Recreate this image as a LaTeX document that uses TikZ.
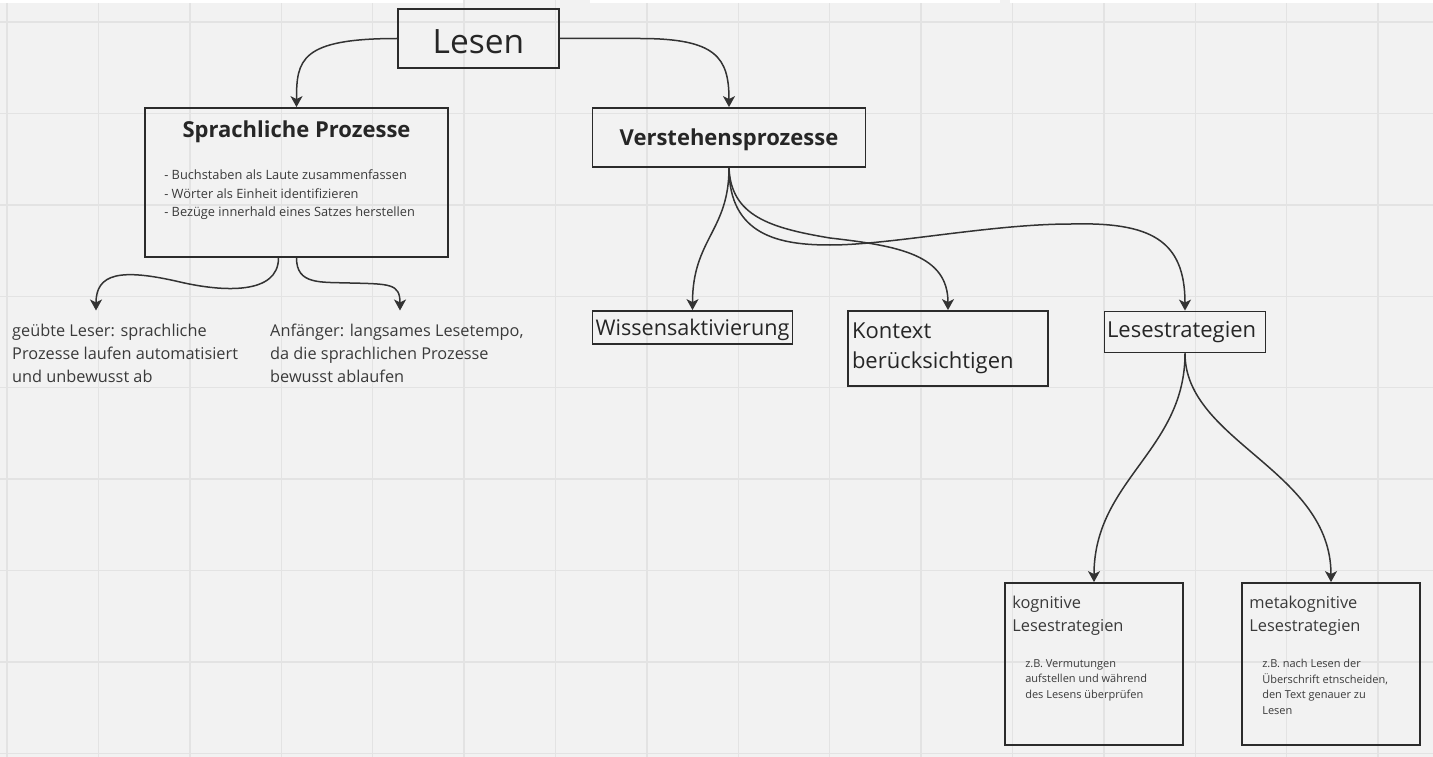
\documentclass[tikz,border=0pt]{standalone}
\usepackage{fontspec}
\setmainfont{Open Sans}
\usetikzlibrary{arrows.meta}

\definecolor{paper}{HTML}{F2F2F2}
\definecolor{gridline}{HTML}{E3E3E3}
\definecolor{frame}{HTML}{2B2B2B}
\definecolor{wire}{HTML}{333333}
\definecolor{ink}{HTML}{262626}
\definecolor{softink}{HTML}{3A3A3A}

\begin{document}
\begin{tikzpicture}[x=1pt, y=-1pt,
    box/.style={draw=frame, line width=1.8pt, inner sep=0pt, text=ink},
    link/.style={draw=wire, line width=1.5pt, -{Stealth[length=11pt,width=12pt,inset=3pt]}},
    plain/.style={inner sep=0pt, align=left, anchor=north west, text=softink,
        font=\fontsize{16.3}{23}\selectfont},
    headline/.style={inner sep=0pt, text=ink, font=\fontsize{22}{26}\selectfont\bfseries},
    subhead/.style={inner sep=0pt, align=left, anchor=north west, text=softink,
        font=\fontsize{16.4}{23}\selectfont},
    detail/.style={inner sep=0pt, align=left, anchor=north west, text=softink,
        font=\fontsize{11}{15.6}\selectfont}]
\useasboundingbox (0,0) rectangle (1433,757);
\fill[paper] (0,0) rectangle (1433,757);
\foreach \i in {0,...,15}
    \draw[gridline, line width=1.4pt] ({7+91.4*\i},0) -- ({7+91.4*\i},757);
\foreach \j in {0,...,8}
    \draw[gridline, line width=1.4pt] (0,{22+91.4*\j}) -- (1433,{22+91.4*\j});
\fill[white] (0,0) rectangle (463,3);
\fill[white] (590,0) rectangle (1000,3);
\fill[white] (1010,0) rectangle (1433,3);

% boxes
\node[box, minimum width=161pt, minimum height=59pt, text height=30pt, font=\fontsize{33.5}{38}\selectfont] (lesen) at (478.5,38.5) {Lesen};
\node[box, minimum width=303pt, minimum height=149pt] (sprach) at (296.5,182.5) {};
\node[headline] (sprachT) at ([yshift=-25pt]sprach.north) {Sprachliche Prozesse};
\node[detail, font=\fontsize{12.8}{18.4}\selectfont] (sprachL) at ([xshift=20pt,yshift=-62.8pt]sprach.north west)
    {- Buchstaben als Laute zusammenfassen\\- Wörter als Einheit identifizieren\\- Bezüge innerhald eines Satzes herstellen};
\node[box, minimum width=273pt, minimum height=59pt, text depth=0pt, font=\fontsize{22}{26}\selectfont\bfseries] (verstehen) at (729,137.5) {Verstehensprozesse};

\node[plain] (geuebt) at (12,323.5) {geübte Leser: sprachliche\\Prozesse laufen automatisiert\\und unbewusst ab};
\node[plain] (anfaenger) at (270,323.5) {Anfänger: langsames Lesetempo,\\da die sprachlichen Prozesse\\bewusst ablaufen};

\node[box, minimum width=200pt, minimum height=33pt, text depth=0pt, font=\fontsize{21.6}{30}\selectfont] (wissen) at (692.5,327.5) {Wissensaktivierung};
\node[box, minimum width=200pt, minimum height=75pt, text width=192pt, align=left, font=\fontsize{22}{30}\selectfont] (kontext) at (948,348.5) {Kontext\\berücksichtigen};
\node[box, minimum width=161pt, minimum height=41pt, text width=156pt, align=left, font=\fontsize{22}{30}\selectfont] (lese) at (1185,332) {Lesestrategien};

\node[box, minimum width=178pt, minimum height=162pt] (kog) at (1094,664) {};
\node[subhead] (kogT) at ([xshift=8pt,yshift=-14pt]kog.north west) {kognitive\\Lesestrategien};
\node[detail] (kogD) at ([xshift=21pt,yshift=-77pt]kog.north west) {z.B. Vermutungen\\aufstellen und während\\des Lesens überprüfen};
\node[box, minimum width=178pt, minimum height=162pt] (meta) at (1331,664) {};
\node[subhead] (metaT) at ([xshift=8pt,yshift=-14pt]meta.north west) {metakognitive\\Lesestrategien};
\node[detail] (metaD) at ([xshift=21pt,yshift=-77pt]meta.north west) {z.B. nach Lesen der\\Überschrift etnscheiden,\\den Text genauer zu\\Lesen};

% connectors
\draw[link] (lesen.west) .. controls +(-97,0) and +(0,-47) .. (sprach.north);
\draw[link] (lesen.east) -- +(80,0) .. controls +(76,0) and +(0,-50) .. (verstehen.north);
\draw[link] ([xshift=-18pt]sprach.south) .. controls +(0,37) and +(43,10) .. (180,282)
    .. controls +(-60,-14) and +(0,-37) .. ([xshift=84pt,yshift=13pt]geuebt.north west);
\draw[link] (sprach.south) .. controls +(0,27) and +(-30,-1) .. (350,283)
    .. controls +(40,1) and +(0,-27) .. ([xshift=130pt,yshift=13pt]anfaenger.north west);
\draw[link] (verstehen.south) .. controls +(0,63) and +(0,-71) .. (wissen.north);
\draw[link] (verstehen.south) .. controls +(2,48) and +(-60,-10) .. (830,238)
    .. controls +(70,8) and +(0,-55) .. (kontext.north);
\draw[link] (verstehen.south) .. controls +(0,68) and +(-50,0) .. (830,245)
    .. controls +(60,0) and +(-80,0) .. (1071,224)
    .. controls +(79,-2) and +(0,-71) .. (lese.north);
\draw[link] (lese.south) .. controls +(0,97) and +(0,-102) .. (kog.north);
\draw[link] (lese.south) .. controls +(0,88) and +(0,-112) .. (meta.north);
\end{tikzpicture}
\end{document}
